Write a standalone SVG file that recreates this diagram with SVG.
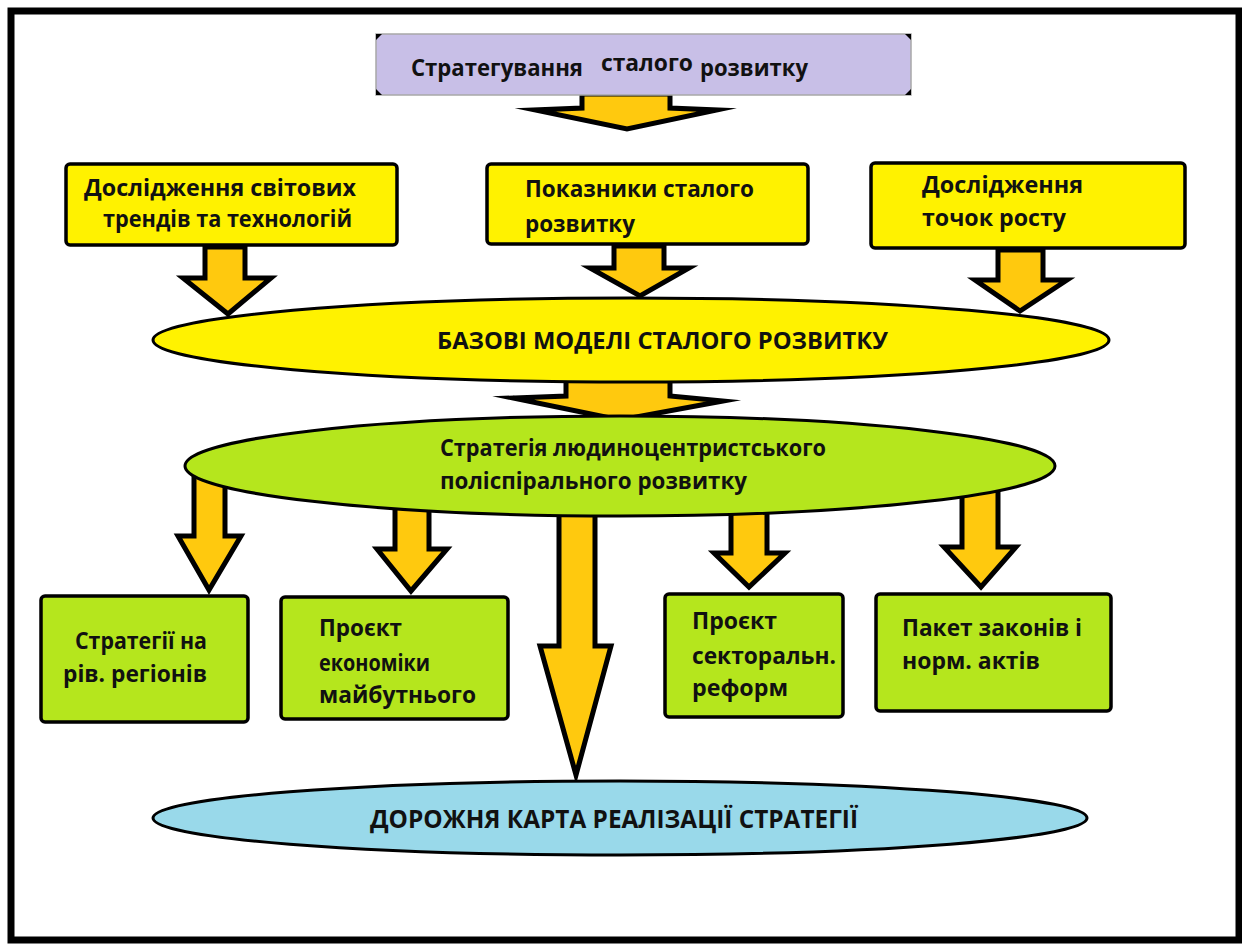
<svg xmlns="http://www.w3.org/2000/svg" width="1242" height="944" viewBox="0 0 1242 944">
  <defs>
    <style>
      .frame { fill: #ffffff; stroke: #000000; stroke-width: 7; }
      .arrow { fill: #ffc90e; stroke: #000000; stroke-width: 5; stroke-linejoin: miter; stroke-miterlimit: 10; }
      .top-box { fill: #c8bfe7; stroke: #a8a8a8; stroke-width: 1.5; }
      .ybox { fill: #fff200; stroke: #000000; stroke-width: 3.5; }
      .gbox { fill: #b5e61d; stroke: #000000; stroke-width: 3.5; }
      .yell { fill: #fff200; stroke: #000000; stroke-width: 3; }
      .gell { fill: #b5e61d; stroke: #000000; stroke-width: 3; }
      .bell { fill: #99d9ea; stroke: #000000; stroke-width: 3; }
      .corner { fill: #000000; }
      .t { font-family: "Open Sans", "Noto Sans", "DejaVu Sans", sans-serif; font-weight: 700; font-size: 24px; fill: #111111; }
      .tt { font-family: "Open Sans", "Noto Sans", "DejaVu Sans", sans-serif; font-weight: 700; font-size: 23px; fill: #111111; }
      .tc { font-family: "Open Sans", "Noto Sans", "DejaVu Sans", sans-serif; font-weight: 700; font-size: 25px; fill: #111111; }
    </style>
  </defs>

  <!-- outer frame -->
  <rect class="frame" x="11" y="11" width="1228" height="929"/>

  <!-- block arrows -->
  <g id="connectors">
    <polygon class="arrow" points="582,94 670,94 670,108 717,110 627,129 535,110 582,108"/>
    <polygon class="arrow" points="205,247 245,247 245,278 271,278 228,314 183,278 205,278"/>
    <polygon class="arrow" points="614,246 664,246 664,268 689,268 640,296 590,268 614,268"/>
    <polygon class="arrow" points="998,250 1043,250 1043,280 1067,280 1020,311 975,280 998,280"/>
    <polygon class="arrow" points="566,376 670,376 670,396 723,401 620,420 513,398 566,396"/>
    <polygon class="arrow" points="194,470 225,470 225,536 241,536 209,590 178,536 194,536"/>
    <polygon class="arrow" points="395,495 429,495 429,549 447,549 411,591 377,549 395,549"/>
    <polygon class="arrow" points="559,500 595,500 595,646 611,646 576,775 540,646 559,646"/>
    <polygon class="arrow" points="731,500 767,500 767,553 785,553 749,587 714,553 731,553"/>
    <polygon class="arrow" points="962,490 998,490 998,547 1016,547 981,587 944,547 962,547"/>
  </g>

  <!-- top box -->
  <g id="node-strategy-top">
    <rect class="top-box" x="376" y="34" width="535" height="61"/>
    <polygon class="corner" points="376,34 382,34 376,40"/>
    <polygon class="corner" points="911,34 905,34 911,40"/>
    <polygon class="corner" points="376,95 382,95 376,89"/>
    <polygon class="corner" points="911,95 905,95 911,89"/>
    <text class="tt" x="411" y="76" textLength="172" lengthAdjust="spacingAndGlyphs">Стратегування</text>
    <text class="tt" x="601" y="71" textLength="92" lengthAdjust="spacingAndGlyphs">сталого</text>
    <text class="tt" x="700" y="76" textLength="108" lengthAdjust="spacingAndGlyphs">розвитку</text>
  </g>

  <!-- research boxes -->
  <g id="node-trends">
    <rect class="ybox" x="66" y="164" width="331" height="81" rx="4"/>
    <text class="t" x="84" y="196" textLength="272" lengthAdjust="spacingAndGlyphs">Дослідження світових</text>
    <text class="t" x="103" y="227" textLength="249" lengthAdjust="spacingAndGlyphs">трендів та технологій</text>
  </g>
  <g id="node-indicators">
    <rect class="ybox" x="487" y="164" width="321" height="80" rx="4"/>
    <text class="t" x="525" y="197" textLength="229" lengthAdjust="spacingAndGlyphs">Показники сталого</text>
    <text class="t" x="525" y="232" textLength="110" lengthAdjust="spacingAndGlyphs">розвитку</text>
  </g>
  <g id="node-growth">
    <rect class="ybox" x="871" y="163" width="314" height="85" rx="4"/>
    <text class="t" x="922" y="193" textLength="161" lengthAdjust="spacingAndGlyphs">Дослідження</text>
    <text class="t" x="922" y="226" textLength="144" lengthAdjust="spacingAndGlyphs">точок росту</text>
  </g>

  <!-- base models -->
  <g id="node-base-models">
    <ellipse class="yell" cx="631" cy="340" rx="478" ry="42"/>
    <text class="t" x="437" y="349" textLength="451" lengthAdjust="spacingAndGlyphs">БАЗОВІ МОДЕЛІ СТАЛОГО РОЗВИТКУ</text>
  </g>

  <!-- strategy ellipse -->
  <g id="node-strategy">
    <ellipse class="gell" cx="620" cy="466" rx="435" ry="50"/>
    <text class="t" x="440" y="456" textLength="386" lengthAdjust="spacingAndGlyphs">Стратегія людиноцентристського</text>
    <text class="t" x="440" y="489" textLength="307" lengthAdjust="spacingAndGlyphs">поліспірального  розвитку</text>
  </g>

  <!-- outputs -->
  <g id="node-regions">
    <rect class="gbox" x="41" y="596" width="207" height="126" rx="4"/>
    <text class="t" x="75" y="649" textLength="132" lengthAdjust="spacingAndGlyphs">Стратегії на</text>
    <text class="t" x="63" y="682" textLength="144" lengthAdjust="spacingAndGlyphs">рів.  регіонів</text>
  </g>
  <g id="node-economy">
    <rect class="gbox" x="281" y="597" width="227" height="122" rx="4"/>
    <text class="t" x="319" y="636" textLength="83" lengthAdjust="spacingAndGlyphs">Проєкт</text>
    <text class="t" x="319" y="671" textLength="111" lengthAdjust="spacingAndGlyphs">економіки</text>
    <text class="t" x="319" y="703" textLength="157" lengthAdjust="spacingAndGlyphs">майбутнього</text>
  </g>
  <g id="node-reforms">
    <rect class="gbox" x="665" y="594" width="178" height="123" rx="4"/>
    <text class="t" x="692" y="629" textLength="85" lengthAdjust="spacingAndGlyphs">Проєкт</text>
    <text class="t" x="692" y="664" textLength="144" lengthAdjust="spacingAndGlyphs">секторальн.</text>
    <text class="t" x="692" y="696" textLength="96" lengthAdjust="spacingAndGlyphs">реформ</text>
  </g>
  <g id="node-laws">
    <rect class="gbox" x="876" y="594" width="235" height="117" rx="4"/>
    <text class="t" x="902" y="636" textLength="180" lengthAdjust="spacingAndGlyphs">Пакет законів і</text>
    <text class="t" x="902" y="669" textLength="138" lengthAdjust="spacingAndGlyphs">норм. актів</text>
  </g>

  <!-- roadmap -->
  <g id="node-roadmap">
    <ellipse class="bell" cx="620" cy="818" rx="467" ry="37"/>
    <text class="tc" x="370" y="828" textLength="488" lengthAdjust="spacingAndGlyphs">ДОРОЖНЯ КАРТА РЕАЛІЗАЦІЇ СТРАТЕГІЇ</text>
  </g>
</svg>
